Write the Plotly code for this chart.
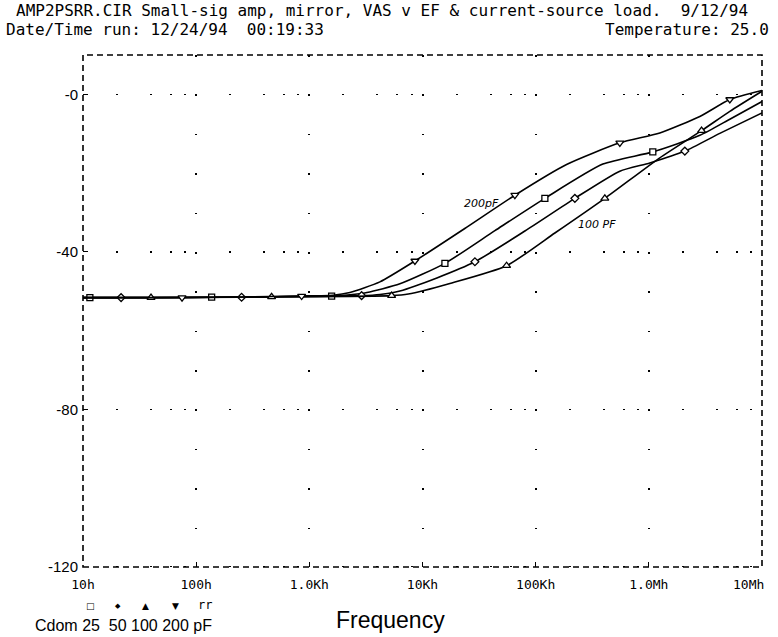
import plotly.graph_objects as go

# ================= DATA ===================
# frequency in Hz, response in dB; *_mk = indices of points that carry a marker
freq_25 = [10, 11.5, 137, 1574, 2284, 3228, 6316, 15780, 43620, 120600, 392500, 1084000, 2823000, 5196000, 1e7]
db_25 = [-51.6, -51.6, -51.5, -51.2, -50.9, -50.3, -48.1, -42.9, -34.6, -26.4, -17.7, -14.6, -10.4, -6.3, -1.8]
mk_25 = [1, 2, 3, 7, 9, 11]

freq_50 = [10, 21.7, 252, 2897, 4205, 6316, 13400, 29040, 80300, 222000, 554400, 1020000, 2080000, 4236000, 1e7]
db_50 = [-51.6, -51.6, -51.5, -51.1, -50.8, -49.9, -46.6, -42.5, -34.7, -26.4, -19.5, -17.4, -14.4, -9.9, -4.7]
mk_50 = [1, 2, 3, 7, 9, 12]

freq_100 = [10, 39.9, 464, 5334, 7500, 17460, 55340, 147800, 408500, 1250000, 2923000, 5196000, 1e7]
db_100 = [-51.6, -51.6, -51.4, -51.1, -50.7, -48.0, -43.5, -35.2, -26.4, -16.1, -9.2, -4.3, 0.8]
mk_100 = [1, 2, 3, 6, 8, 10]

freq_200 = [10, 75, 855, 1616, 2284, 4205, 8570, 24660, 65500, 187500, 554400, 1250000, 2823000, 5196000, 1e7]
db_200 = [-51.6, -51.6, -51.2, -51.0, -50.3, -47.6, -42.3, -33.7, -25.6, -17.8, -12.3, -9.8, -5.6, -1.3, 1.0]
mk_200 = [1, 2, 6, 8, 10, 13]

x_tickvals = [10, 100, 1e3, 1e4, 1e5, 1e6, 1e7]
x_ticktext = ["10h", "100h", "1.0Kh", "10Kh", "100Kh", "1.0Mh", ""]
last_xlabel = "10Mh"
y_tickvals = [0, -40, -80, -120]
y_ticktext = ["-0", "-40", "-80", "-120"]

# ================= LAYOUT ===================
W, H = 778, 637
L, R, T, B = 83, 16, 55, 70
PW, PH = W - L - R, H - T - B
Y0, Y1 = -120, 10
PX_10DB = PH * 10 / (Y1 - Y0)

MONO = "DejaVu Sans Mono"
SANS = "Liberation Sans"


def px(x, y):
    # pixel position -> paper coordinates, for the text around the plot
    return (x - L) / PW, (H - B - y) / PH


series = [
    (freq_25, db_25, mk_25, "square"),
    (freq_50, db_50, mk_50, "diamond"),
    (freq_100, db_100, mk_100, "triangle-up"),
    (freq_200, db_200, mk_200, "triangle-down"),
]

fig = go.Figure()
for f, db, mk, sym in series:
    fig.add_trace(go.Scatter(
        x=f, y=db, mode="lines",
        line=dict(color="black", width=1.6, shape="spline", smoothing=0.6),
        showlegend=False, hoverinfo="skip",
    ))
    fig.add_trace(go.Scatter(
        x=[f[i] for i in mk], y=[db[i] for i in mk], mode="markers",
        marker=dict(symbol=sym, size=7 if "triangle" in sym else 6, color="white",
                    line=dict(color="black", width=1.3)),
        showlegend=False,
    ))

minor_x = [m * 10 ** k for k in range(1, 7) for m in (2, 4, 6, 8)]
dot = 1.6
g1 = PX_10DB - dot / 2
g2 = 4 * PX_10DB - g1 - dot

fig.update_xaxes(
    type="log", range=[1, 7], automargin=False,
    tickvals=x_tickvals, ticktext=x_ticktext,
    ticks="inside", ticklen=5, tickwidth=1.3, tickcolor="black",
    tickfont=dict(family=MONO, size=13, color="black"),
    ticklabelstandoff=8,
    showline=False, zeroline=False,
    showgrid=True, gridcolor="black", gridwidth=dot,
    griddash=f"{dot}px,{PX_10DB - dot:.3f}px",
    minor=dict(tickvals=minor_x, ticks="", showgrid=True, gridcolor="black",
               gridwidth=dot, griddash=f"0px,{g1:.3f}px,{dot}px,{g2:.3f}px"),
)
fig.update_yaxes(
    range=[Y0, Y1], automargin=False,
    tickvals=y_tickvals, ticktext=y_ticktext,
    ticks="inside", ticklen=5, tickwidth=1.3, tickcolor="black",
    tickfont=dict(family=SANS, size=15, color="black"),
    ticklabelstandoff=4,
    showline=False, zeroline=False, showgrid=False,
)

# dashed frame
fig.add_shape(type="rect", xref="paper", yref="paper", x0=0, x1=1, y0=0, y1=1,
              line=dict(color="black", width=1.6, dash="6px,4px"))

ann = []


def text(x, y, s, font, size, xanchor="center"):
    ax, ay = px(x, y)
    ann.append(dict(x=ax, y=ay, xref="paper", yref="paper", text=s, showarrow=False,
                    xanchor=xanchor, yanchor="middle", borderpad=0,
                    font=dict(family=font, size=size, color="black")))


text(15, 10, "AMP2PSRR.CIR Small-sig amp, mirror, VAS v EF &amp; current-source load.  9/12/94", MONO, 16, "left")
text(5, 29, "Date/Time run: 12/24/94  00:19:33", MONO, 16, "left")
text(770, 29, "Temperature: 25.0", MONO, 16, "right")

text(748, 584, last_xlabel, MONO, 13)
text(390, 620, "Frequency", SANS, 23)
text(123, 625, "Cdom 25  50 100 200 pF", SANS, 16)
text(90, 606, "□", "DejaVu Sans", 9)
text(118, 606, "◆", "DejaVu Sans", 7)
text(145, 606, "▲", "DejaVu Sans", 9)
text(175, 606, "▼", "DejaVu Sans", 9)
text(205, 605, "rr", MONO, 12)

# curve labels
text(481, 203, "<i>200pF</i>", "DejaVu Sans", 11)
text(597, 224, "<i>100 PF</i>", "DejaVu Sans", 11)

fig.update_layout(
    width=W, height=H,
    margin=dict(l=L, r=R, t=T, b=B),
    paper_bgcolor="white", plot_bgcolor="white",
    annotations=ann,
)

fig.write_html("out.html", config={"displayModeBar": False},
               post_script="document.body.style.margin='0';document.body.style.overflow='hidden';")
